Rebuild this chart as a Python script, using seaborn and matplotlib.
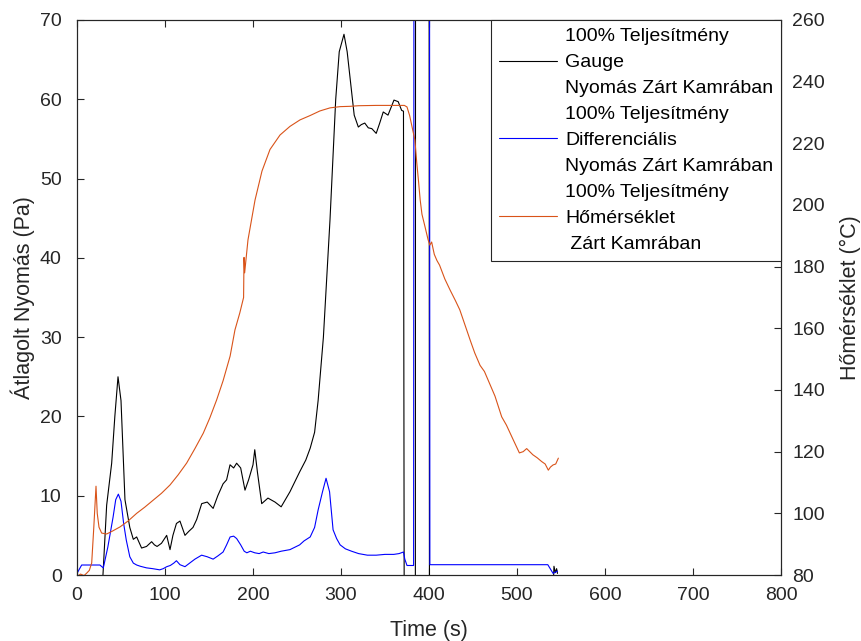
import numpy as np
import pandas as pd
import matplotlib
matplotlib.use("Agg")
import matplotlib.pyplot as plt
from matplotlib.lines import Line2D
import seaborn as sns

# ---------------- data ----------------
gauge_t = [0, 28, 29.5, 33.7, 39.4, 43, 46.6, 50, 54.5, 60, 64, 67.8, 73.4, 79, 84.8, 88,
           91, 96, 101.9, 105.7, 109, 113, 117, 122.7, 127, 131.8, 136, 141.7, 148, 154.7,
           160, 166, 170, 173.9, 178, 181.4, 186, 190.9, 195, 200, 202, 205, 209.9, 217,
           225, 232, 242, 253, 260, 265, 270, 274, 280, 287.5, 294, 298, 303.4, 307, 311,
           315, 319.7, 323, 327, 331, 335, 340, 344, 348, 353.4, 357, 360.2, 365, 368.9,
           371, 371.8, 384.5, 385, 399.5, 400.5, 541, 542, 543.5, 545, 546]
gauge_v = [-2, -2, 0, 8.8, 14.1, 20, 25, 22, 9.5, 6, 4.5, 4.8, 3.4, 3.6, 4.2, 3.8,
           3.6, 4.0, 5.0, 3.2, 5.0, 6.5, 6.8, 5.0, 5.5, 6.0, 7.0, 9.0, 9.2, 8.4,
           10, 11.5, 12, 13.9, 13.5, 14.1, 13.5, 10.7, 12, 13.9, 15.8, 13, 9.0, 9.7,
           9.2, 8.6, 10.5, 13, 14.5, 16, 18, 22, 30, 44.8, 60, 66, 68.2, 66, 62,
           58, 56.5, 56.8, 57, 56.4, 56.3, 55.7, 57, 58.4, 58, 59, 59.9, 59.7, 58.6,
           58.5, -3, -3, 200, 200, -2, -2, 1.1, 0.3, 0.8, 0.2]

diff_t = [0, 3, 5.3, 26, 29.9, 35, 41, 44, 47, 50, 53, 56, 60, 64, 67.8, 72, 79, 86, 94,
          98, 102, 106, 110, 113, 117, 122.7, 128, 134, 141.6, 148, 154.7, 160, 166, 170,
          174, 178, 181.4, 186, 190, 193, 197, 202, 207, 211.6, 218, 225, 232, 242, 253,
          258, 265, 270, 274, 279, 283, 287, 291, 295, 299, 305, 312, 320, 330, 340, 350,
          360, 366, 371, 372.5, 375, 382.5, 383.5, 400, 401, 535, 541, 546]
diff_v = [0.2, 0.8, 1.26, 1.26, 0.9, 3.5, 7.3, 9.5, 10.2, 9.3, 6.5, 4.4, 2.3, 1.5, 1.26, 1.1, 0.9, 0.8, 0.65,
          0.8, 1.05, 1.2, 1.5, 1.8, 1.3, 1.05, 1.5, 2.0, 2.5, 2.3, 2.0, 2.4, 2.9, 3.8,
          4.8, 4.9, 4.6, 3.8, 3.0, 2.8, 3.0, 2.8, 2.7, 2.9, 2.7, 2.8, 3.0, 3.2, 3.8,
          4.3, 4.8, 6.0, 8.2, 10.5, 12.2, 10.5, 5.7, 4.6, 3.8, 3.3, 3.0, 2.7, 2.5, 2.5, 2.6,
          2.6, 2.7, 2.9, 2.0, 1.2, 1.2, 200, 200, 1.3, 1.3, 0.2, 0.5]

temp_t = [0, 4, 8, 11, 14, 16.7, 19, 21.6, 23, 25, 28, 33.7, 40, 48.9, 58, 67.8, 77, 86.7,
          96, 105.7, 115, 124.6, 134, 143.5, 151, 158.7, 166, 174, 179.5, 185, 189.3, 189.8,
          190.5, 194.3, 202.3, 210.2, 219.3, 230.7, 242, 253.4, 264.8, 276, 287.5, 299,
          310, 320, 340, 360, 372, 375, 378, 381, 384, 386, 388, 390, 392, 395, 399, 401,
          403, 406, 409, 412, 418, 424, 430, 435, 441, 447, 452, 458, 463, 469, 475,
          482.6, 488, 495.8, 502.7, 507, 511, 518, 523, 528, 532, 535.6, 538, 541, 544, 547]
temp_v = [79.5, 80.3, 79.8, 80.6, 81.5, 83.9, 95, 108.8, 100, 95.5, 93.6, 93.3, 94.2, 95.6,
          97.5, 100, 102, 104.3, 106.5, 109.2, 112.5, 116.3, 121, 126, 131, 136.8, 143, 151,
          159.5, 165, 170, 183, 178, 188.7, 201.6, 211, 218, 222.7, 225.5, 227.6, 229,
          230.5, 231.5, 231.9, 232, 232.2, 232.3, 232.3, 232.3, 231.8, 229, 225, 221, 214,
          208, 201.6, 197, 193.5, 188.7, 187, 188, 184, 182, 180.5, 176, 172.4, 169, 166,
          161, 156, 152, 148, 146, 142, 138, 131.3, 128.6, 123.8, 119.6, 120, 121, 119,
          118, 116.8, 116, 114, 115, 115.7, 116, 117.9]

x_ticks = [0, 100, 200, 300, 400, 500, 600, 700, 800]
left_ticks = [0, 10, 20, 30, 40, 50, 60, 70]
right_ticks = [80, 100, 120, 140, 160, 180, 200, 220, 240, 260]

labels = ["100% Teljesítmény\nGauge\nNyomás Zárt Kamrában",
          "100% Teljesítmény\nDifferenciális\nNyomás Zárt Kamrában",
          "100% Teljesítmény\nHőmérséklet\n Zárt Kamrában"]

# ---------------- styling ----------------
sns.set_style("white")
plt.rcParams["font.family"] = ["Liberation Sans", "DejaVu Sans"]
axcol = "#262626"

fig = plt.figure(figsize=(8.62, 6.41), dpi=100)
ax = fig.add_axes([77 / 862, 66 / 641, 704 / 862, 555 / 641])
ax2 = ax.twinx()

c_black, c_blue, c_orange = "#000000", "#0000FF", "#D95319"
lw = 0.8

sns.lineplot(x=gauge_t, y=gauge_v, ax=ax, color=c_black, linewidth=lw,
             sort=False, estimator=None, legend=False)
sns.lineplot(x=diff_t, y=diff_v, ax=ax, color=c_blue, linewidth=lw,
             sort=False, estimator=None, legend=False)
sns.lineplot(x=temp_t, y=temp_v, ax=ax2, color=c_orange, linewidth=lw,
             sort=False, estimator=None, legend=False)

ax.set_xlim(0, 800)
ax.set_ylim(0, 70)
ax2.set_ylim(80, 260)
ax.set_xticks(x_ticks)
ax.set_yticks(left_ticks)
ax2.set_yticks(right_ticks)

fs_tick = 14
fs_lab = 15.5
ax.tick_params(axis="x", direction="in", top=True, bottom=True, length=5, width=0.8,
               color=axcol, labelsize=fs_tick, pad=9, labelcolor="#262626")
ax.tick_params(axis="y", direction="in", left=True, right=False, length=5, width=0.8,
               color=axcol, labelsize=fs_tick, pad=11, labelcolor="#262626")
ax2.tick_params(axis="y", direction="in", right=True, left=False, length=5, width=0.8,
                color=axcol, labelsize=fs_tick, pad=8, labelcolor="#262626")
ax2.tick_params(axis="x", top=False, bottom=False)

for a in (ax, ax2):
    for s in a.spines.values():
        s.set_visible(True)
        s.set_color(axcol)
        s.set_linewidth(0.8)

ax.set_xlabel("Time (s)", fontsize=fs_lab, color="#262626")
ax.set_ylabel("Átlagolt Nyomás (Pa)", fontsize=fs_lab, color="#262626")
ax2.set_ylabel("Hőmérséklet (°C)", fontsize=fs_lab, color="#262626")
ax.xaxis.set_label_coords(0.5, -0.081)
ax.yaxis.set_label_coords(-0.06, 0.5)
ax2.yaxis.set_label_coords(1.084, 0.5)

# legend: one row per text line, handle on the middle line of each entry
handles, texts = [], []
for lab, col in zip(labels, [c_black, c_blue, c_orange]):
    for i, line in enumerate(lab.split("\n")):
        if i == 1:
            handles.append(Line2D([], [], color=col, linewidth=lw))
        else:
            handles.append(Line2D([], [], color="none", linewidth=0))
        texts.append(line)
leg = ax2.legend(handles, texts, loc="upper right", borderaxespad=0,
                 fontsize=14, frameon=True, fancybox=False, framealpha=1,
                 edgecolor=axcol, handlelength=3.0, handletextpad=0.4,
                 labelspacing=0.43, borderpad=0.4)
leg.get_frame().set_linewidth(0.8)
for t in leg.get_texts():
    t.set_color("#000000")

fig.savefig("out.png", dpi=100)
